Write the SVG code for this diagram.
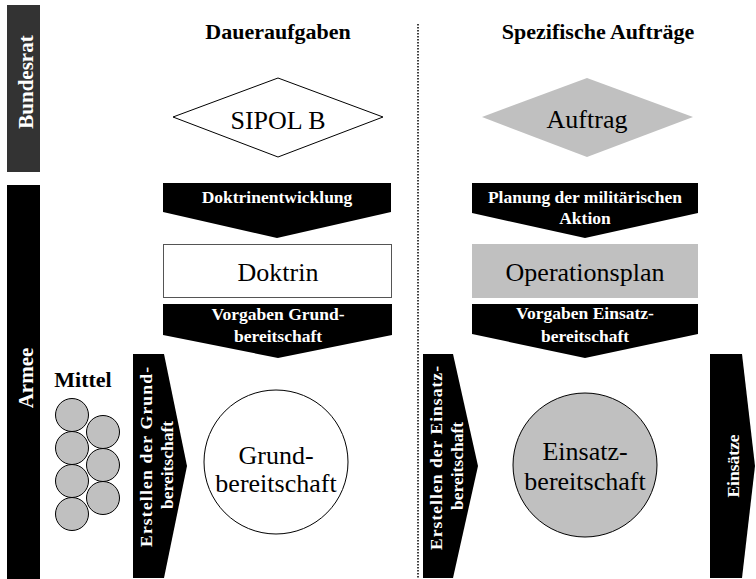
<svg xmlns="http://www.w3.org/2000/svg" width="756" height="579" viewBox="0 0 756 579">
  <style>
    text { font-family: "Liberation Serif", "Times New Roman", serif; }
    .hdr { font-size: 22px; font-weight: bold; fill: #000; text-anchor: middle; }
    .big { font-size: 26px; fill: #000; text-anchor: middle; }
    .lbl { font-size: 17.5px; font-weight: bold; fill: #fff; text-anchor: middle; }
    .side { font-size: 21px; font-weight: bold; fill: #fff; text-anchor: middle; }
    .flow { fill: #000; }
    .res { fill: #c0c0c0; stroke: #000; stroke-width: 1; }
  </style>

  <rect width="756" height="579" fill="#fff"/>

  <!-- level bars -->
  <g id="bundesrat">
    <rect x="7" y="5" width="33" height="167" fill="#333"/>
    <text class="side" transform="translate(33,82) rotate(-90)">Bundesrat</text>
  </g>
  <g id="armee">
    <rect x="7" y="185" width="33" height="394" fill="#000"/>
    <text class="side" transform="translate(33,378) rotate(-90)">Armee</text>
  </g>

  <!-- column headings -->
  <g id="daueraufgaben">
    <text class="hdr" x="278" y="39">Daueraufgaben</text>
  </g>
  <g id="spezifische-auftraege">
    <text class="hdr" x="598" y="39">Spezifische Aufträge</text>
  </g>

  <!-- nodes -->
  <g id="sipol-b">
    <polygon points="173,117 278,78 383,117 278,157" fill="#fff" stroke="#000" stroke-width="1"/>
    <text class="big" x="278" y="129">SIPOL B</text>
  </g>
  <g id="auftrag">
    <polygon points="482,117 587,78 693,117 587,157" fill="#c0c0c0"/>
    <text class="big" x="587" y="128">Auftrag</text>
  </g>
  <g id="doktrin">
    <rect x="163.5" y="244.5" width="228" height="53" fill="#fff" stroke="#555" stroke-width="1"/>
    <text class="big" x="278" y="281">Doktrin</text>
  </g>
  <g id="operationsplan">
    <rect x="472" y="244" width="226" height="54" fill="#c0c0c0"/>
    <text class="big" x="585" y="281">Operationsplan</text>
  </g>
  <g id="mittel">
    <text x="83" y="387" font-size="22" font-weight="bold" text-anchor="middle">Mittel</text>
    <circle class="res" cx="72" cy="415" r="16.5"/>
    <circle class="res" cx="72" cy="448" r="16.5"/>
    <circle class="res" cx="72" cy="481" r="16.5"/>
    <circle class="res" cx="72" cy="514" r="16.5"/>
    <circle class="res" cx="103" cy="432" r="16.5"/>
    <circle class="res" cx="103" cy="465" r="16.5"/>
    <circle class="res" cx="103" cy="498" r="16.5"/>
  </g>
  <g id="grundbereitschaft">
    <circle cx="276" cy="462" r="72" fill="#fff" stroke="#000" stroke-width="1"/>
    <text class="big" x="276" y="464">Grund-</text>
    <text class="big" x="276" y="492">bereitschaft</text>
  </g>
  <g id="einsatzbereitschaft">
    <circle cx="585" cy="465" r="72" fill="#c0c0c0" stroke="#000" stroke-width="1"/>
    <text class="big" x="585" y="460">Einsatz-</text>
    <text class="big" x="585" y="490">bereitschaft</text>
  </g>

  <!-- process arrows and divider -->
  <g id="connectors">
    <line x1="418" y1="24" x2="418" y2="579" stroke="#000" stroke-width="1.5" stroke-dasharray="1.5 1.5"/>

    <polygon class="flow" points="163,183 391,183 391,212 277,238 163,212"/>
    <text class="lbl" x="277" y="203">Doktrinentwicklung</text>

    <polygon class="flow" points="163,304 392,304 392,335 278,358 163,335"/>
    <text class="lbl" x="278" y="320">Vorgaben Grund-</text>
    <text class="lbl" x="278" y="342">bereitschaft</text>

    <polygon class="flow" points="472,183 698,183 698,213 585,238 472,213"/>
    <text class="lbl" x="585" y="203">Planung der militärischen</text>
    <text class="lbl" x="585" y="224">Aktion</text>

    <polygon class="flow" points="472,304 698,304 698,334 585,358 472,334"/>
    <text class="lbl" x="585" y="319">Vorgaben Einsatz-</text>
    <text class="lbl" x="585" y="342">bereitschaft</text>

    <polygon class="flow" points="133,354 164,354 187,466 164,578 133,578"/>
    <text class="lbl" transform="translate(152,457) rotate(-90)" textLength="180" lengthAdjust="spacing">Erstellen der  Grund-</text>
    <text class="lbl" transform="translate(173,465) rotate(-90)">bereitschaft</text>

    <polygon class="flow" points="423,354 453,354 478,466 453,578 423,578"/>
    <text class="lbl" transform="translate(442,458) rotate(-90)" textLength="184" lengthAdjust="spacing">Erstellen der  Einsatz-</text>
    <text class="lbl" transform="translate(463,466) rotate(-90)">bereitschaft</text>

    <polygon class="flow" points="710,354 742,354 755,466 742,578 710,578"/>
    <text class="lbl" transform="translate(739,466) rotate(-90)">Einsätze</text>
  </g>
</svg>
